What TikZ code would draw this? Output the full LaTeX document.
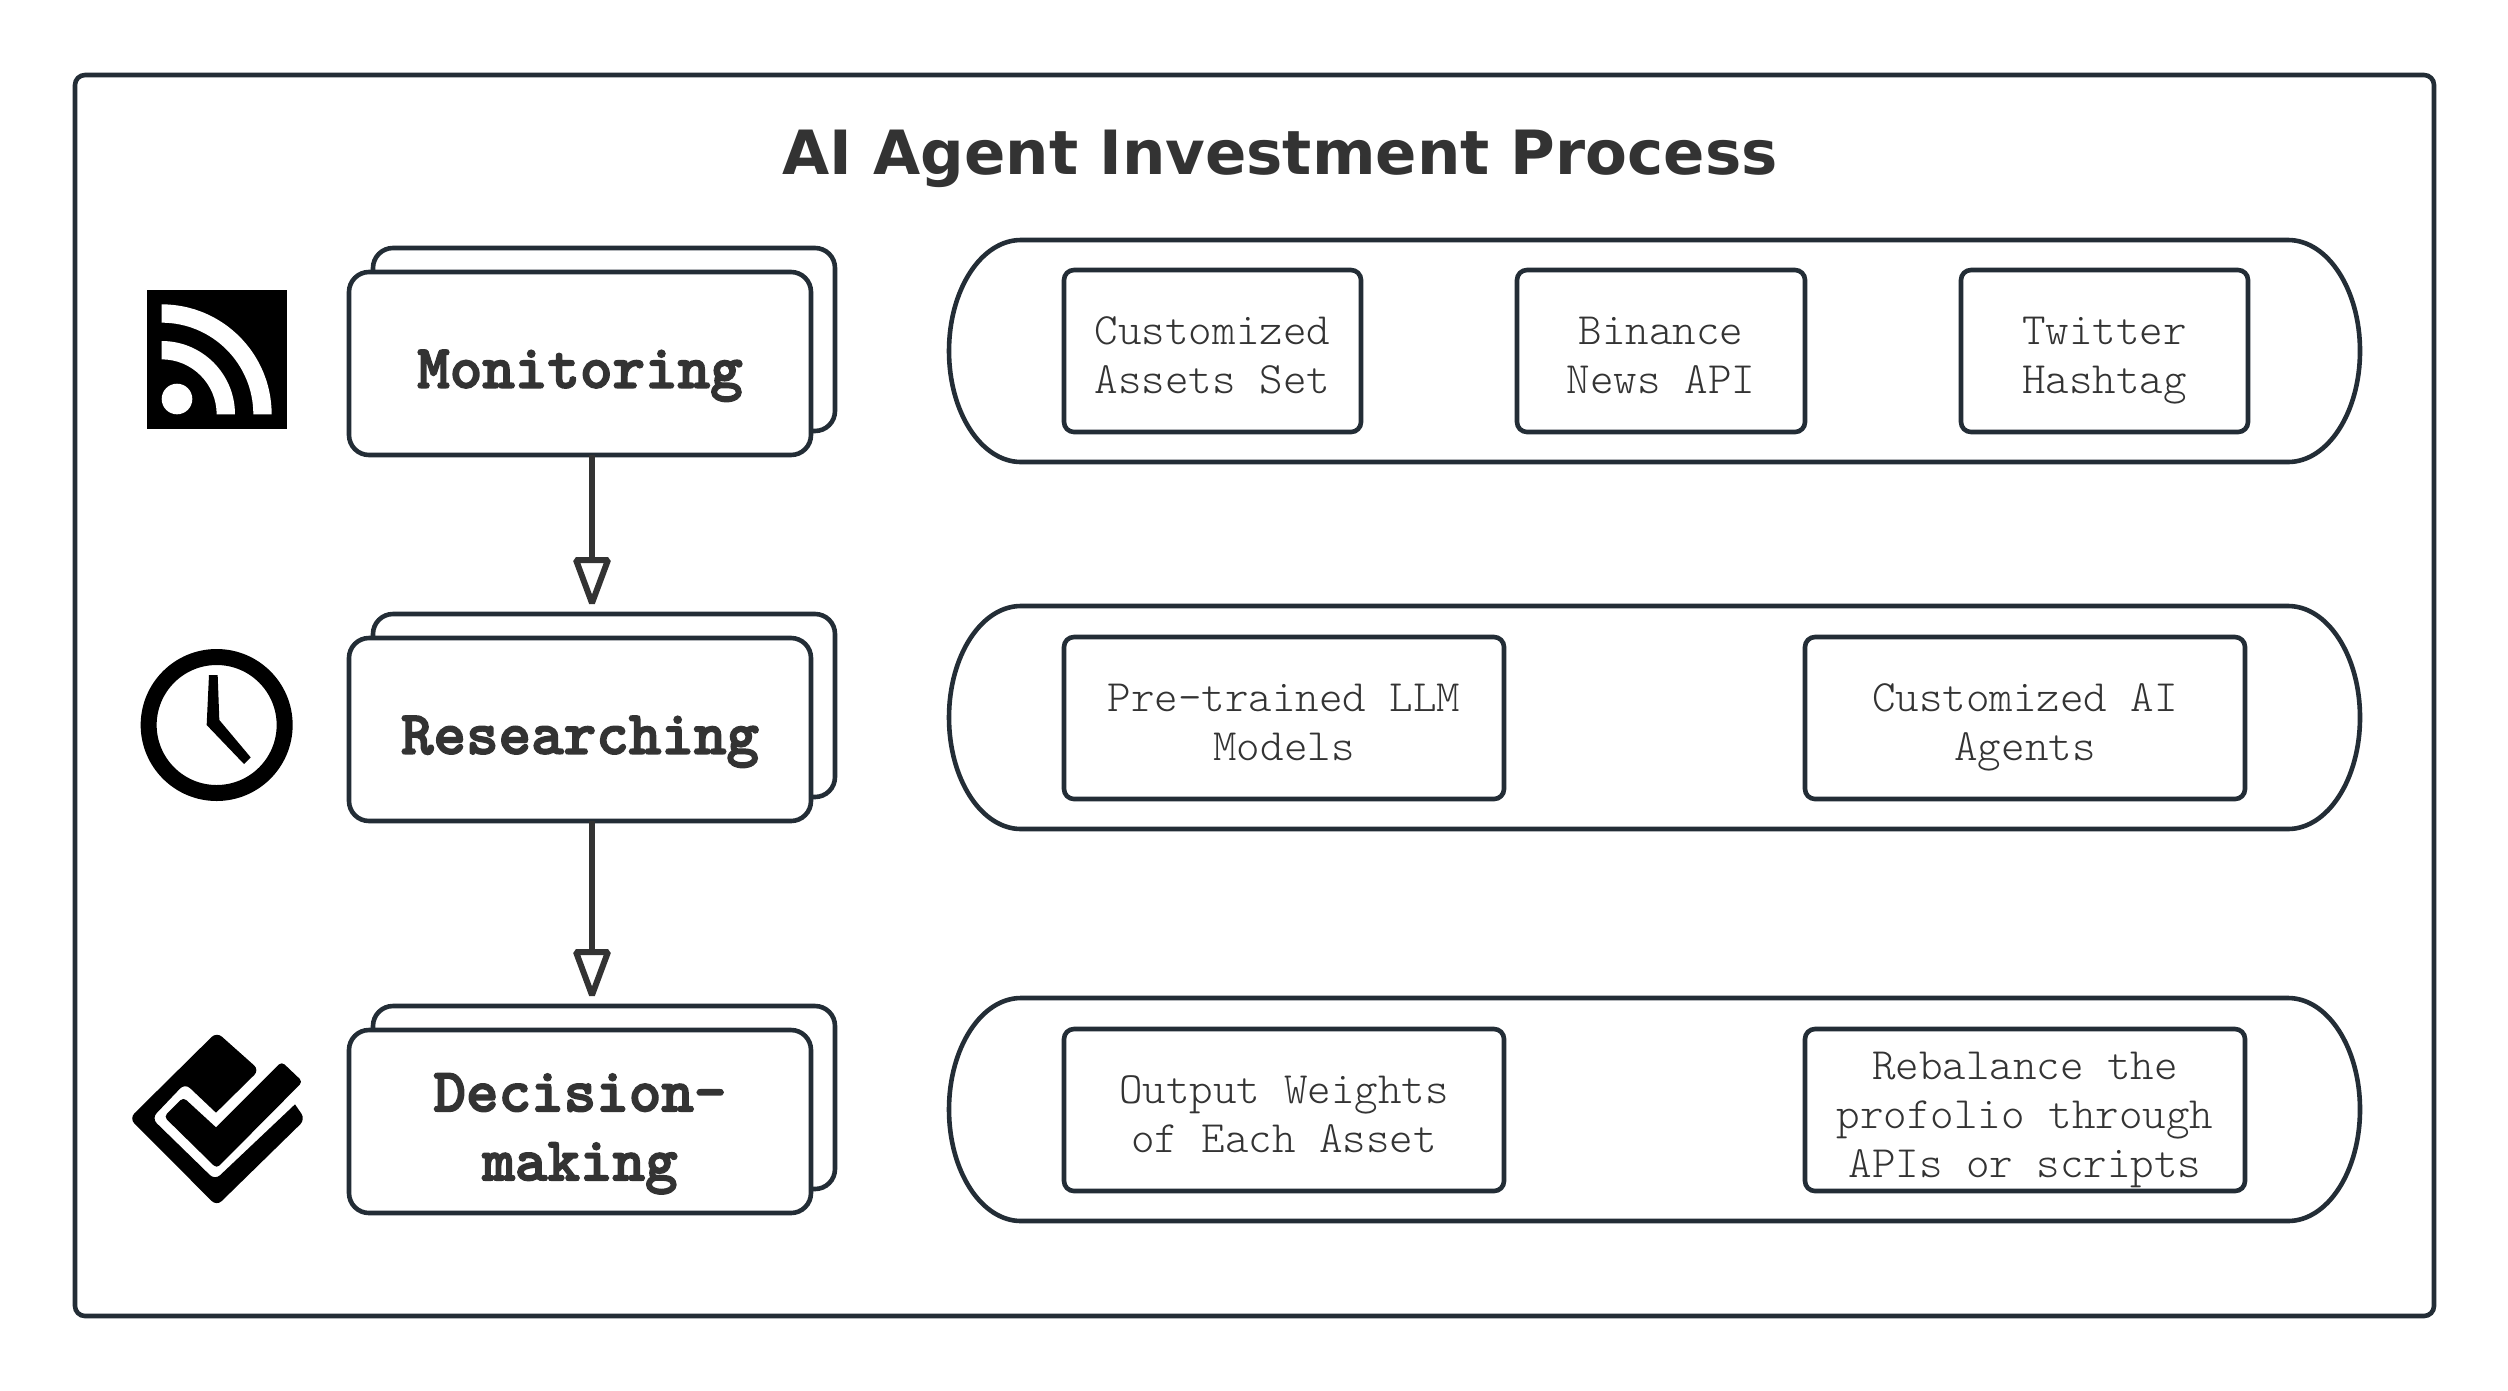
\documentclass[tikz,border=0pt]{standalone}
\usepackage{fontspec}
\setmainfont{DejaVu Sans}
\newfontfamily\itemfont{Latin Modern Mono Light}
\newfontfamily\stagefont[FakeBold=2.5]{Latin Modern Mono Light}
\definecolor{edge}{HTML}{232D36}
\definecolor{ink}{HTML}{333333}
\tikzset{
  x=1pt,y=-1pt,
  frame/.style={draw=edge,line width=4.6pt,rounded corners=10pt,fill=white,outer sep=0pt},
  stage/.style={frame,rounded corners=20pt},
  inner box/.style={frame,rounded corners=10pt},
  stage text/.style={text=ink,inner sep=0pt,font=\stagefont\bfseries\fontsize{62}{69}\selectfont,align=center},
  item text/.style={text=ink,inner sep=0pt,font=\itemfont\fontsize{44.8}{49}\selectfont,align=center},
  flow/.style={draw=ink,line width=6pt},
  head/.style={draw=ink,line width=6pt,fill=white,line join=bevel},
}
\newcommand{\stagebox}[6]{% name x0 y0 x1 y1 text
  \draw[stage] (#2+24,#3-24) rectangle (#4+24,#5-24);
  \node[stage,minimum width=#4pt-#2pt,minimum height=#5pt-#3pt,inner sep=0pt,anchor=north west] (#1) at (#2,#3) {};
  \node[stage text] (#1t) at ([yshift=-10.5pt]#1.center) {#6};
}
\newcommand{\pill}[5]{% name x0 y0 x1 y1
  \draw[frame,rounded corners=0pt] (#2+72,#3) -- (#4-72,#3) arc[start angle=90,end angle=-90,x radius=72pt,y radius={(#5-#3)/2*1pt}] -- (#2+72,#5) arc[start angle=-90,end angle=-270,x radius=72pt,y radius={(#5-#3)/2*1pt}] -- cycle;
}
\newcommand{\itembox}[6]{% name x0 y0 x1 y1 text
  \node[inner box,minimum width=#4pt-#2pt,minimum height=#5pt-#3pt,inner sep=0pt,anchor=north west] (#1) at (#2,#3) {};
  \node[item text] (#1t) at ([yshift=-8.5pt]#1.center) {#6};
}
\newcommand{\arrowhead}[2]{% x, y of top
  \draw[head] (#1-16,#2) -- (#1+16,#2) -- (#1,#2+43) -- cycle;
}
\begin{document}
\begin{tikzpicture}
\useasboundingbox (0,0) rectangle (2508,1390);
\fill[white] (0,0) rectangle (2508,1390);
\draw[frame] (75,75) rectangle (2434,1316);
\node[text=ink,font=\bfseries\fontsize{61}{70}\selectfont] (title) at (1280,158.5) {AI Agent Investment Process};

\stagebox{mon}{349}{272}{811}{455}{\strut Monitoring}
\stagebox{res}{349}{638}{811}{821}{\strut Researching}
\stagebox{dec}{349}{1030}{811}{1213}{\strut Decision-\\\strut making}

\pill{p1}{949}{240}{2360}{462}
\pill{p2}{949}{606}{2360}{829}
\pill{p3}{949}{998}{2360}{1221}

\itembox{a1}{1064}{270}{1361}{432}{\strut Customized\\\strut Assets Set}
\itembox{a2}{1517}{270}{1805}{432}{\strut Binance\\\strut News API}
\itembox{a3}{1961}{270}{2248}{432}{\strut Twitter\\\strut Hashtag}
\itembox{b1}{1064}{637}{1504}{799}{\strut Pre-trained LLM\\\strut Models}
\itembox{b2}{1805}{637}{2245}{799}{\strut Customized AI\\\strut Agents}
\itembox{c1}{1064}{1029}{1504}{1191}{\strut Output Weights\\\strut of Each Asset}
\itembox{c2}{1805}{1029}{2245}{1191}{\strut Rebalance the\\\strut profolio through\\\strut APIs or scripts}

\coordinate (t1) at (592,604);
\coordinate (t2) at (592,996);
\draw[flow] (mon.south -| t1) -- (t1);
\draw[flow] (res.south -| t2) -- (t2);
\arrowhead{592}{560}
\arrowhead{592}{952}

% feed icon
\begin{scope}[shift={(130,275)}]
\fill[black] (52/3,44/3) rectangle (470/3,462/3);
\fill[white] (141/3,372/3) circle[radius=15.3pt];
\fill[white] (95/3,88/3) arc[start angle=90,end angle=0,radius=110pt] -- (370/3,418/3) arc[start angle=0,end angle=90,radius=91.67pt] -- cycle;
\fill[white] (95/3,198/3) arc[start angle=90,end angle=0,radius=73.33pt] -- (260/3,418/3) arc[start angle=0,end angle=90,radius=55pt] -- cycle;
\end{scope}
% clock
\begin{scope}[shift={(130,640)}]
\draw[black,line width=16pt] (260/3,255/3) circle[radius=68pt];
\fill[black] (237/3,105/3) -- (263/3,105/3) -- (268/3,240/3) -- (362/3,352/3) -- (342/3,372/3) -- (230/3,255/3) -- cycle;
\end{scope}
% check
\begin{scope}[shift={(120,1020)}]
\fill[black] (418/3,150/3) -- (288/3,278/3) [rounded corners=7pt] -- (195/3,190/3) -- (95/3,295/3) -- (285/3,480/3) [sharp corners] -- (525/3,253/3) [rounded corners=7pt] -- (556/3,298/3) -- (290/3,558/3) -- (28/3,295/3) -- (290/3,36/3) -- cycle;
\fill[black] (288/3,322/3) [rounded corners=4pt] -- (485/3,125/3) -- (548/3,185/3) -- (290/3,445/3) -- (132/3,290/3) -- (190/3,232/3) [sharp corners] -- cycle;
\end{scope}
\end{tikzpicture}
\end{document}
